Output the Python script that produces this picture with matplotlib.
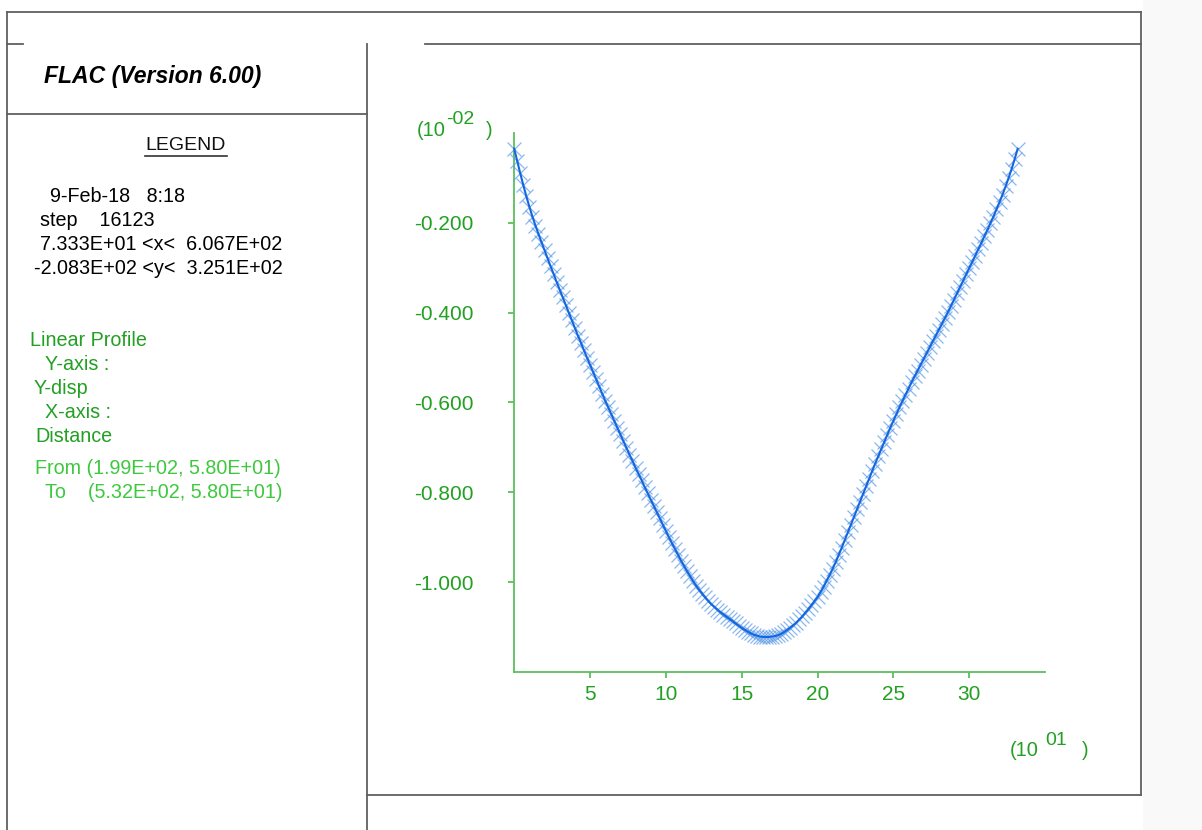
import matplotlib
matplotlib.use("Agg")
import matplotlib.pyplot as plt
from matplotlib.lines import Line2D
from matplotlib.patches import Rectangle

plt.rcParams['font.family'] = ['Liberation Sans', 'DejaVu Sans']

# ---- data (distance in 10^1, y-displacement in 10^-2) ----
ydisp = [
    -0.035, -0.063, -0.090, -0.116, -0.141, -0.164, -0.186, -0.206, -0.225, -0.243,
    -0.261, -0.279, -0.297, -0.314, -0.332, -0.349, -0.366, -0.383, -0.400, -0.417,
    -0.434, -0.451, -0.467, -0.484, -0.500, -0.516, -0.532, -0.548, -0.564, -0.580,
    -0.596, -0.611, -0.626, -0.641, -0.656, -0.671, -0.686, -0.701, -0.716, -0.730,
    -0.745, -0.759, -0.773, -0.788, -0.802, -0.816, -0.830, -0.844, -0.858, -0.872,
    -0.886, -0.900, -0.913, -0.926, -0.939, -0.952, -0.964, -0.976, -0.987, -0.998,
    -1.008, -1.017, -1.026, -1.034, -1.042, -1.049, -1.055, -1.061, -1.067, -1.072,
    -1.077, -1.082, -1.087, -1.092, -1.097, -1.102, -1.106, -1.110, -1.114, -1.117,
    -1.119, -1.121, -1.122, -1.122, -1.122, -1.121, -1.120, -1.118, -1.115, -1.111,
    -1.106, -1.101, -1.096, -1.090, -1.083, -1.076, -1.068, -1.060, -1.051, -1.042,
    -1.033, -1.022, -1.010, -0.997, -0.984, -0.970, -0.955, -0.939, -0.923, -0.906,
    -0.889, -0.872, -0.855, -0.838, -0.821, -0.804, -0.787, -0.770, -0.753, -0.736,
    -0.720, -0.704, -0.688, -0.672, -0.656, -0.641, -0.626, -0.611, -0.597, -0.583,
    -0.569, -0.555, -0.542, -0.529, -0.516, -0.503, -0.490, -0.477, -0.464, -0.451,
    -0.438, -0.425, -0.412, -0.399, -0.385, -0.371, -0.357, -0.343, -0.329, -0.315,
    -0.301, -0.287, -0.273, -0.259, -0.245, -0.230, -0.216, -0.201, -0.186, -0.170,
    -0.154, -0.137, -0.119, -0.100, -0.080, -0.058, -0.035,
]
distance = [round(0.2 * i, 1) for i in range(len(ydisp))]

xticks = [5, 10, 15, 20, 25, 30]
yticks = [-0.2, -0.4, -0.6, -0.8, -1.0]

legend_black = ["9-Feb-18   8:18", "step    16123", "7.333E+01 <x<  6.067E+02", "-2.083E+02 <y<  3.251E+02"]
legend_green = ["Linear Profile", "Y-axis :", "Y-disp", "X-axis :", "Distance"]
legend_light = ["From (1.99E+02, 5.80E+01)", "To    (5.32E+02, 5.80E+01)"]

# ---- figure ----
W, H = 1202, 830
fig = plt.figure(figsize=(W / 100, H / 100), dpi=100)
fig.patch.set_facecolor('white')


def fx(px):
    return px / W


def fy(py):
    return 1 - py / H


# faint right strip
fig.add_artist(Rectangle((fx(1143), 0), 1 - fx(1143), 1, transform=fig.transFigure,
                         facecolor='#f9f9f9', edgecolor='none', zorder=0))

frame_col = '#606060'
segments = [
    ((7, 12), (1141, 12)),
    ((7, 44), (23, 44)),
    ((425, 44), (1141, 44)),
    ((7, 12), (7, 830)),
    ((1141, 12), (1141, 795)),
    ((367, 44), (367, 830)),
    ((7, 114), (367, 114)),
    ((367, 795), (1141, 795)),
]
for (x0, y0), (x1, y1) in segments:
    fig.add_artist(Line2D([fx(x0), fx(x1)], [fy(y0), fy(y1)], transform=fig.transFigure,
                          color=frame_col, lw=1.3))

# texts in legend panel
fig.text(fx(44), fy(77), "FLAC (Version 6.00)", fontsize=16.6, fontweight='bold',
         fontstyle='italic', ha='left', va='center', color='black')
fig.text(fx(186), fy(145), "LEGEND", fontsize=14, ha='center', va='center', color='#111111')
fig.add_artist(Line2D([fx(145), fx(227)], [fy(156), fy(156)], transform=fig.transFigure,
                      color='#333333', lw=1.2))
black_x = [50, 40, 40, 34]
for i, s in enumerate(legend_black):
    fig.text(fx(black_x[i]), fy(197 + 23.7 * i), s, fontsize=14.2, ha='left', va='center',
             color='black')
green = '#22a022'
green_x = [30, 45, 34, 45, 35]
for i, s in enumerate(legend_green):
    fig.text(fx(green_x[i]), fy(340 + 24 * i), s, fontsize=14.2, ha='left', va='center',
             color=green)
light = '#3ec83e'
light_x = [35, 45]
for i, s in enumerate(legend_light):
    fig.text(fx(light_x[i]), fy(468 + 24 * i), s, fontsize=14.2, ha='left', va='center',
             color=light)

# ---- axes ----
ax = fig.add_axes([fx(514.2), fy(672), fx(1045) - fx(514.2), fy(133) - fy(672)])
ax.set_facecolor('none')
ax.set_xlim(0, 35)
ax.set_ylim(-1.2, 0)
for s in ['top', 'right']:
    ax.spines[s].set_visible(False)
axis_col = '#5cbf5c'
for s in ['left', 'bottom']:
    ax.spines[s].set_color(axis_col)
    ax.spines[s].set_linewidth(1.3)

ax.set_xticks(xticks)
ax.set_xticklabels([str(t) for t in xticks])
ax.set_yticks(yticks)
ax.set_yticklabels(["%.3f" % t for t in yticks])
ax.tick_params(axis='both', direction='out', color=axis_col, width=1.3, length=4.5,
               labelcolor='#22a022', labelsize=15)
ax.tick_params(axis='y', pad=25)
ax.tick_params(axis='x', pad=5)

ax.plot(distance, ydisp, linestyle='none', marker='x', markersize=10.5, markeredgewidth=0.9,
        color='#5a9be6', alpha=0.7, clip_on=False, zorder=3)
ax.plot(distance, ydisp, '-', color='#1565e0', lw=1.5, clip_on=False, zorder=4)

# exponent labels
tc = '#22a022'
fig.text(fx(417), fy(130), "(10", fontsize=14.5, ha='left', va='center', color=tc)
fig.text(fx(446), fy(119), "-02", fontsize=14, ha='left', va='center', color=tc)
fig.text(fx(486), fy(130), ")", fontsize=14.5, ha='left', va='center', color=tc)
fig.text(fx(1010), fy(750), "(10", fontsize=14.5, ha='left', va='center', color=tc)
fig.text(fx(1045), fy(740), "01", fontsize=14, ha='left', va='center', color=tc)
fig.text(fx(1082), fy(750), ")", fontsize=14.5, ha='left', va='center', color=tc)

fig.savefig("out.png", dpi=100, facecolor='white')
